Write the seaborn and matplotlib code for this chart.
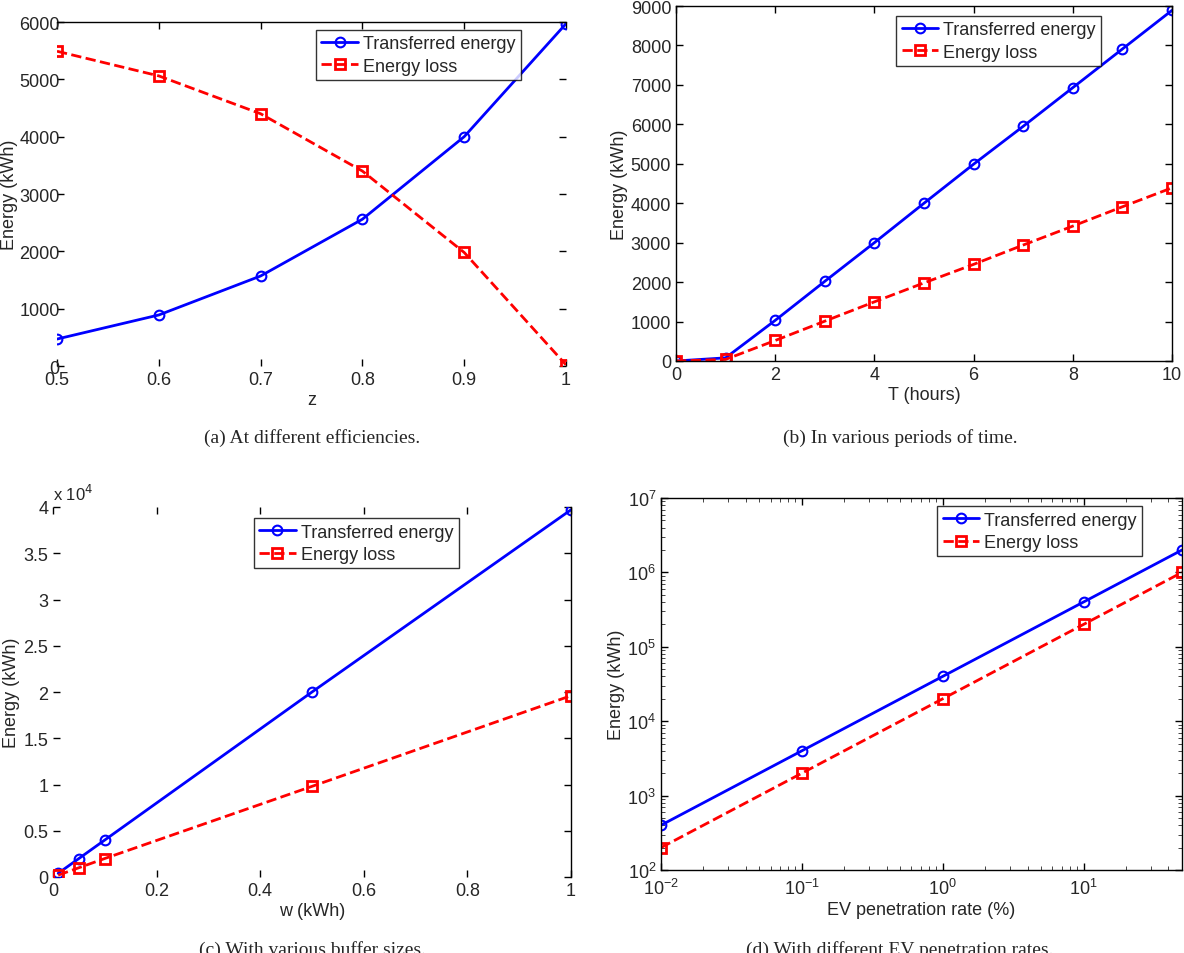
import matplotlib
matplotlib.use("Agg")
import matplotlib.pyplot as plt
import matplotlib.ticker as mticker
import seaborn as sns
import pandas as pd

# ---- data ----
z_vals = [0.5, 0.6, 0.7, 0.8, 0.9, 1.0]
a_transferred = [470, 890, 1570, 2560, 4000, 5970]
a_loss = [5490, 5060, 4400, 3400, 1980, 20]

t_vals = [0, 1, 2, 3, 4, 5, 6, 7, 8, 9, 10]
b_transferred = [0, 80, 1030, 2020, 3000, 4000, 4990, 5950, 6930, 7910, 8890]
b_loss = [0, 40, 520, 1010, 1500, 1980, 2450, 2940, 3420, 3910, 4390]

w_vals = [0.01, 0.05, 0.1, 0.5, 1.0]
c_transferred = [400, 2000, 4000, 20000, 39700]
c_loss = [200, 1000, 2000, 9800, 19600]

ev_vals = [0.01, 0.1, 1, 10, 50]
d_transferred = [400, 4000, 40000, 400000, 2000000]
d_loss = [200, 2000, 20000, 200000, 1000000]

series_names = ["Transferred energy", "Energy loss"]
captions = ["(a) At different efficiencies.", "(b) In various periods of time.",
            "(c) With various buffer sizes.", "(d) With different EV penetration rates."]

sns.set_style("ticks")
plt.rcParams["font.family"] = ["Liberation Sans", "DejaVu Sans"]
plt.rcParams["xtick.direction"] = "in"
plt.rcParams["ytick.direction"] = "in"
plt.rcParams["xtick.top"] = True
plt.rcParams["ytick.right"] = True

fig = plt.figure(figsize=(11.84, 9.54), dpi=100)
W, H = 1184, 954

def make_ax(l, r, t, b):
    return fig.add_axes([l / W, 1 - b / H, (r - l) / W, (b - t) / H])

ax_a = make_ax(57, 566, 23, 367)
ax_b = make_ax(676, 1172, 7, 362)
ax_c = make_ax(53, 571, 508, 878)
ax_d = make_ax(661, 1182, 499, 871)

def draw(ax, x, y1, y2):
    df1 = pd.DataFrame({"x": x, "y": y1})
    df2 = pd.DataFrame({"x": x, "y": y2})
    sns.lineplot(data=df1, x="x", y="y", ax=ax, color="#0000ff", lw=2,
                 marker="o", markersize=7, markerfacecolor="none",
                 markeredgecolor="#0000ff", markeredgewidth=1.5,
                 label=series_names[0])
    sns.lineplot(data=df2, x="x", y="y", ax=ax, color="#ff0000", lw=2,
                 linestyle="--", marker="s", markersize=7, markerfacecolor="none",
                 markeredgecolor="#ff0000", markeredgewidth=2,
                 label=series_names[1])
    ax.tick_params(labelsize=13, length=5, width=1, color="black")
    for s in ax.spines.values():
        s.set_color("black")
        s.set_linewidth(1)

draw(ax_a, z_vals, a_transferred, a_loss)
draw(ax_b, t_vals, b_transferred, b_loss)
draw(ax_c, w_vals, c_transferred, c_loss)
draw(ax_d, ev_vals, d_transferred, d_loss)

# (a)
ax_a.set_xlim(0.5, 1.0)
ax_a.set_ylim(0, 6000)
ax_a.set_xticks([0.5, 0.6, 0.7, 0.8, 0.9, 1.0])
ax_a.set_xticklabels(["0.5", "0.6", "0.7", "0.8", "0.9", "1"])
ax_a.set_yticks(range(0, 6001, 1000))
ax_a.tick_params(axis="y", pad=-2)
ax_a.set_xlabel("z", fontsize=13, labelpad=2)
ax_a.set_ylabel("Energy (kWh)", fontsize=13)
ax_a.yaxis.set_label_coords(-0.077, 0.5)
for s in ["left", "bottom", "right"]:
    ax_a.spines[s].set_visible(False)

# (b)
ax_b.set_xlim(0, 10)
ax_b.set_ylim(0, 9000)
ax_b.set_xticks(range(0, 11, 2))
ax_b.set_yticks(range(0, 9001, 1000))
ax_b.set_xlabel("T (hours)", fontsize=13, labelpad=2)
ax_b.set_ylabel("Energy (kWh)", fontsize=13, labelpad=2)

# (c)
ax_c.set_xlim(0, 1)
ax_c.set_ylim(0, 40000)
ax_c.set_xticks([0, 0.2, 0.4, 0.6, 0.8, 1.0])
ax_c.set_xticklabels(["0", "0.2", "0.4", "0.6", "0.8", "1"])
ax_c.set_yticks(range(0, 40001, 5000))
ax_c.yaxis.set_major_formatter(mticker.FuncFormatter(lambda v, p: f"{v/1e4:g}"))
ax_c.set_xlabel("w (kWh)", fontsize=13, labelpad=2)
ax_c.set_ylabel("Energy (kWh)", fontsize=13, labelpad=2)
ax_c.text(0.0, 1.01, r"x 10$^4$", transform=ax_c.transAxes, fontsize=12,
          ha="left", va="bottom")
for s in ["left", "bottom", "top"]:
    ax_c.spines[s].set_visible(False)

# (d)
ax_d.set_xscale("log")
ax_d.set_yscale("log")
ax_d.set_xlim(0.01, 50)
ax_d.set_ylim(1e2, 1e7)
ax_d.set_xlabel("EV penetration rate (%)", fontsize=13, labelpad=2)
ax_d.set_ylabel("Energy (kWh)", fontsize=13, labelpad=2)
ax_d.tick_params(which="minor", length=3, direction="in", top=True, right=True)
ax_d.tick_params(axis="x", which="major", pad=6)

# legends
legend_pos = {ax_a: (0.509, 0.977), ax_b: (0.444, 0.972), ax_c: (0.388, 0.97), ax_d: (0.53, 0.978)}
for ax, pos in legend_pos.items():
    leg = ax.legend(loc="upper left", bbox_to_anchor=pos, fontsize=13, frameon=True,
                    fancybox=False, edgecolor="black", handlelength=2.0,
                    handletextpad=0.3, borderpad=0.3, labelspacing=0.3,
                    borderaxespad=0)
    leg.get_frame().set_linewidth(1)

# captions
cap_font = ["Liberation Serif", "DejaVu Serif"]
fig.text(312 / W, 1 - 438 / H, captions[0], ha="center", va="center", fontsize=14, family=cap_font)
fig.text(900 / W, 1 - 438 / H, captions[1], ha="center", va="center", fontsize=14, family=cap_font)
fig.text(312 / W, 1 - 941 / H, captions[2], ha="center", va="top", fontsize=14, family=cap_font)
fig.text(900 / W, 1 - 941 / H, captions[3], ha="center", va="top", fontsize=14, family=cap_font)

fig.savefig("out.png", dpi=100)
